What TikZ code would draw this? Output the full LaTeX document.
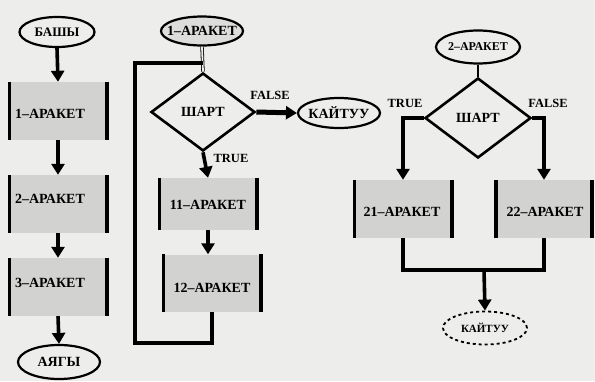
\documentclass[tikz,border=0pt]{standalone}
\usepackage{fontspec}
\setmainfont{Liberation Serif}
\usetikzlibrary{shapes.geometric,arrows.meta}
\definecolor{paper}{HTML}{EDEDEB}
\definecolor{boxfill}{HTML}{D2D2D0}
\tikzset{
  every node/.style={font=\bfseries\fontsize{14}{16}\selectfont},
  oval/.style={ellipse,draw,line width=2.2pt,fill=paper,inner sep=0pt},
  proc/.style={rectangle,fill=boxfill,inner sep=0pt},
  bar/.style={line width=3.6pt},
  arr/.style={line width=3.6pt,-{Triangle[length=11pt,width=13pt]}},
  cond/.style={diamond,draw,line width=2.6pt,inner sep=0pt,fill=paper},
  lbl/.style={font=\bfseries\fontsize{12.5}{14}\selectfont},
  thickline/.style={line width=4.5pt},
  small/.style={font=\bfseries\fontsize{12}{14}\selectfont}
}
\begin{document}
\begin{tikzpicture}[x=1pt,y=-1pt]
\useasboundingbox[fill=paper] (0,0) rectangle (595,381);
% left column
\node[oval,minimum width=75pt,minimum height=30pt,font=\bfseries\fontsize{13}{15}\selectfont] (start) at (57,32) {\makebox[0pt]{БАШЫ}};
\node[proc,minimum width=97pt,minimum height=58pt] (b1) at (58,111) {};
\node[proc,minimum width=97pt,minimum height=58pt] (b2) at (58,204) {};
\node[proc,minimum width=97pt,minimum height=58pt] (b3) at (58,287) {};
\node (t1) at (50,114) {1–АРАКЕТ};
\node (t2) at (50,199) {2–АРАКЕТ};
\node (t3) at (50,283) {3–АРАКЕТ};
\node[oval,minimum width=82pt,minimum height=34pt] (end) at (59,362) {\makebox[0pt]{АЯГЫ}};
\foreach \b in {b1,b2,b3}{
  \draw[bar] (\b.north west) -- (\b.south west);
  \draw[bar] (\b.north east) -- (\b.south east);
}
\draw[arr] (start.south) -- (b1.north);
\draw[arr] (b1.south) -- (b2.north);
\draw[arr] (b2.south) -- (b3.north);
\draw[arr] (b3.south) -- (end.north);
% middle
\node[oval,minimum width=82pt,minimum height=29pt,fill=boxfill!60!paper] (m1) at (202,31) {\makebox[0pt]{1–АРАКЕТ}};
\node[cond,minimum width=104pt,minimum height=78pt] (d1) at (203,112) {ШАРТ};
\node[oval,minimum width=82pt,minimum height=30pt] (k1) at (339,113) {\makebox[0pt]{КАЙТУУ}};
\node[lbl] (f1) at (270,95) {FALSE};
\node[lbl] (tr1) at (231,158) {TRUE};
\node[proc,minimum width=97pt,minimum height=52pt] (b11) at (208,204) {};
\node[proc,minimum width=97pt,minimum height=57pt] (b12) at (212,283) {};
\node (t11) at (208,205) {11–АРАКЕТ};
\node (t12) at (212,288) {12–АРАКЕТ};
\foreach \b in {b11,b12}{
  \draw[bar] (\b.north west) -- (\b.south west);
  \draw[bar] (\b.north east) -- (\b.south east);
}
\coordinate (j) at (203,63);
\coordinate (lb) at (135,343);
\draw[line width=0.8pt,double=paper,double distance=1.8pt] (m1.south) -- (d1.north);
\draw[arr,line width=5pt] (d1.east) -- (k1.west);
\draw[arr] (d1.south) -- (b11.north);
\draw[arr] (b11.south) -- (b11.south |- b12.north);
\draw[thickline] (b12.south) |- (lb) |- (j);
% right
\node[oval,small,minimum width=84pt,minimum height=33pt] (m2) at (478,47) {\makebox[0pt]{2–АРАКЕТ}};
\node[cond,minimum width=106pt,minimum height=80pt] (d2) at (478,118) {ШАРТ};
\node[lbl] (tr2) at (405,103) {TRUE};
\node[lbl] (f2) at (548,103) {FALSE};
\node[proc,minimum width=97pt,minimum height=58pt] (b21) at (403,209) {};
\node[proc,minimum width=96pt,minimum height=58pt] (b22) at (544,209) {};
\node (t21) at (402,212) {21–АРАКЕТ};
\node (t22) at (545,212) {22–АРАКЕТ};
\foreach \b in {b21,b22}{
  \draw[bar] (\b.north west) -- (\b.south west);
  \draw[bar] (\b.north east) -- (\b.south east);
}
\draw[line width=2pt] (m2.south) -- (d2.north);
\draw[arr,line width=4pt] (d2.west) -| (b21.north);
\draw[arr,line width=4pt] (d2.east) -| (b22.north);
\coordinate (mj) at (484,270);
\draw[thickline] (b21.south) |- (mj) -| (b22.south);
\node[oval,dashed,line width=1.8pt,minimum width=84pt,minimum height=33pt,font=\bfseries\fontsize{11}{13}\selectfont] (k2) at (485,328) {\makebox[0pt]{КАЙТУУ}};
\draw[arr] (mj) -- (k2.north);
\end{tikzpicture}
\end{document}
